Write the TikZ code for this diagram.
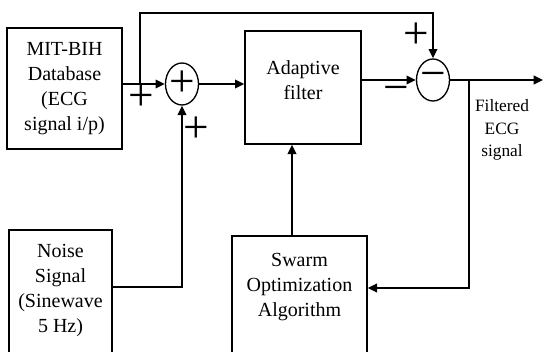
\documentclass[tikz,border=0pt]{standalone}
\usepackage{fontspec}
\setmainfont{Liberation Serif}
\usetikzlibrary{arrows.meta,shapes.geometric}
\tikzset{
  blk/.style={draw,line width=1pt,inner sep=0pt},
  txt/.style={align=center,font=\fontsize{15}{18.75}\selectfont},
  junc/.style={draw,ellipse,line width=1pt,inner sep=0pt,minimum width=33*0.75pt,minimum height=42*0.75pt},
  sgn/.style={font=\fontsize{34}{34}\selectfont,inner sep=0pt},
  arr/.style={line width=1.4pt,-{Triangle[length=7pt,width=6.5pt]}},
  ln/.style={line width=1.4pt}
}
\begin{document}
\begin{tikzpicture}[x=0.75pt,y=-0.75pt]
\clip (0,0) rectangle (543,351);
\useasboundingbox (0,0) rectangle (543,351);

% nodes
\node[blk,minimum width=115*0.75pt,minimum height=121*0.75pt,txt] (db) at (64.5,88.5) {MIT-BIH\\Database\\(ECG\\signal i/p)};
\node[junc] (sum) at (182,84) {};
\node[sgn] (sumsign) at (sum) {+};
\node[blk,minimum width=116*0.75pt,minimum height=113*0.75pt] (filt) at (303,87.5) {};
\node[txt] (filttxt) at (303,80) {Adaptive\\filter};
\node[junc] (diff) at (433,80) {};
\node[sgn] (diffsign) at (diff) {−};
\node[blk,minimum width=103*0.75pt,minimum height=130*0.75pt] (noise) at (60.5,295) {};
\node[txt] (noisetxt) at (60.5,290.5) {Noise\\Signal\\(Sinewave\\5 Hz)};
\node[blk,minimum width=135*0.75pt,minimum height=124*0.75pt] (swarm) at (299.5,298) {};
\node[txt] (swarmtxt) at (299.5,287.5) {Swarm\\Optimization\\Algorithm};
\node[align=center,font=\fontsize{13}{17}\selectfont] (outtxt) at (502,130) {Filtered\\ECG\\signal};

% signs
\node[sgn] (p1) at (141,98) {+};
\node[sgn] (p2) at (196,130) {+};
\node[sgn] (p3) at (416,36) {+};
\node[sgn] (m1) at (396,94) {−};

% points
\coordinate (br1) at (140,84);
\coordinate (tp) at (140,13);
\coordinate (br2) at (469,80);
\coordinate (out) at (543,80);

% arrows
\draw[arr] (db.east |- sum.west) -- (sum.west);
\draw[arr] (br1) -- (tp) -| (diff.north);
\draw[arr] (sum.east) -- (sum.east -| filt.west);
\draw[arr] (diff.west -| filt.east) -- (diff.west);
\draw[arr] (diff.east) -- (out);
\draw[arr] (br2) |- (swarm.east |- 0,288);
\draw[arr] (swarm.north -| 292,0) -- (filt.south -| 292,0);
\draw[arr] (noise.east |- 0,287) -| (sum.south);
\end{tikzpicture}
\end{document}
